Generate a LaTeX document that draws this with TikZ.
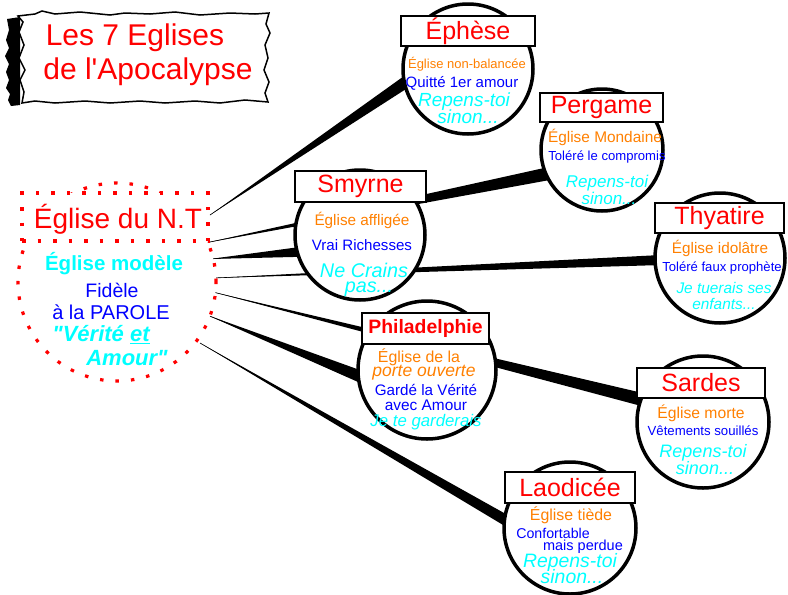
\documentclass[tikz,border=0pt]{standalone}
\usepackage{fontspec}
\setmainfont{Liberation Sans}
\usetikzlibrary{calc}
\pgfdeclarelayer{bg}
\pgfsetlayers{bg,main}
\definecolor{orng}{RGB}{255,128,0}
\definecolor{cyn}{RGB}{0,255,255}
\definecolor{blu}{RGB}{0,0,255}
\definecolor{rd}{RGB}{255,0,0}
\newcommand{\fs}[1]{\fontsize{#1}{#1}\selectfont}
\newcommand{\churchlink}[4]{%
  \coordinate (lkE) at ($(#2.#3)!-6pt!(#1)$);
  \fill[black] (#1) -- ($(lkE)!#4!90:(#1)$) -- ($(lkE)!#4!-90:(#1)$) -- cycle;
  \draw[black,line width=0.6pt] (#1) -- (lkE);}
\begin{document}
\begin{tikzpicture}[x=1pt,y=-1pt,
  church/.style={circle,draw=black,line width=3.5pt,fill=white,inner sep=0pt},
  namebox/.style={draw=black,line width=2.5pt,fill=white,inner sep=0pt,text=rd,font=\fs{25}},
  dotred/.style={draw=rd,line width=3.2pt,dash pattern=on 3.5pt off 12pt,fill=white},
  txt/.style={inner sep=0pt},
  o/.style={txt,text=orng},
  b/.style={txt,text=blu},
  c/.style={txt,text=cyn}]
\useasboundingbox (0,0) rectangle (788,595);

% title (torn paper)
\fill[black] (7,19) -- (20,17) -- (20,105) -- (11,106) -- (8,100) -- (10,94) -- (6,88) -- (9,80) -- (6,72) -- (9,64) -- (5,56) -- (9,48) -- (6,40) -- (9,30) -- cycle;
\filldraw[fill=white,draw=black,line width=1.5pt] (18,16) -- (35,14) -- (42,11) -- (55,14) -- (80,12) -- (110,15) -- (125,13) -- (150,14) -- (175,12) -- (200,15) -- (230,13) -- (255,14) -- (269,13) -- (266,24) -- (270,33) -- (265,45) -- (268,58) -- (264,70) -- (269,82) -- (265,93) -- (268,102) -- (245,100) -- (220,103) -- (195,101) -- (165,103) -- (140,101) -- (110,103) -- (85,101) -- (55,103) -- (35,101) -- (22,103) -- (24,92) -- (20,80) -- (25,70) -- (19,58) -- (24,45) -- (19,32) -- (23,22) -- cycle;
\node[txt,text=rd,font=\fs{30}] (t1) at (135,38) {Les 7 Eglises};
\node[txt,text=rd,font=\fs{30}] (t2) at (148,72) {de l\textquotesingle Apocalypse};

% left node
\node[dotred,circle,minimum size=198pt,inner sep=0pt] (nt) at (117,282) {};
\node[dotred,rectangle,minimum width=186pt,minimum height=48pt,inner sep=0pt] (ntbox) at (115,217) {};
\node[txt,text=rd,font=\fs{28}] (ntname) at (118,219) {Église du N.T};
\node[c,font=\bfseries\fs{20.5}] (nt1) at (114,264) {Église modèle};
\node[b,font=\fs{19.5}] (nt2) at (112,290) {Fidèle};
\node[b,font=\fs{20}] (nt3) at (111,312) {à la PAROLE};
\node[c,font=\bfseries\itshape\fs{22}] (nt4) at (101,335) {\textquotedbl Vérité \underline{et}};
\node[c,font=\bfseries\itshape\fs{22}] (nt5) at (127,358) {Amour\textquotedbl};

\coordinate (s1) at (210,215);
\coordinate (s2) at (205,243);
\coordinate (s3) at (210,259);
\coordinate (s4) at (213,278);
\coordinate (s5) at (213,292);
\coordinate (s6) at (207,315);
\coordinate (s7) at (200,343);

% churches
\node[church,minimum size=130pt] (eph) at (468,69) {};
\node[church,minimum size=122pt] (per) at (602,150) {};
\node[church,minimum size=130pt] (smy) at (360,235) {};
\node[church,minimum size=130pt] (thy) at (720,258) {};
\node[church,minimum size=138pt] (phi) at (427,370) {};
\node[church,minimum size=132pt] (sar) at (703,422) {};
\node[church,minimum size=132pt] (lao) at (570,528) {};

\begin{pgfonlayer}{bg}
\churchlink{s1}{eph}{193.6}{6pt}
\churchlink{s2}{per}{203}{6.5pt}
\churchlink{s3}{smy}{195}{5pt}
\churchlink{s4}{thy}{182}{5pt}
\churchlink{s5}{sar}{160}{6.5pt}
\churchlink{s6}{phi}{184}{6pt}
\churchlink{s7}{lao}{172}{5.5pt}
\end{pgfonlayer}

% name boxes
\node[namebox,minimum width=134pt,minimum height=30pt] (ephB) at (468,31) {Éphèse};
\node[namebox,minimum width=123pt,minimum height=29pt] (perB) at (601.5,107.5) {Pergame};
\node[namebox,minimum width=131pt,minimum height=31pt] (smyB) at (360.5,186.5) {Smyrne};
\node[namebox,minimum width=129pt,minimum height=30pt] (thyB) at (719.5,218) {Thyatire};
\node[namebox,minimum width=127pt,minimum height=31pt,font=\bfseries\fs{19.4}] (phiB) at (425.5,328.5) {Philadelphie};
\node[namebox,minimum width=128pt,minimum height=30pt] (sarB) at (701,383) {Sardes};
\node[namebox,minimum width=130pt,minimum height=31pt] (laoB) at (570,487.5) {Laodicée};

% Ephese
\node[o,font=\fs{13}] (e1) at (467,64) {Église non-balancée};
\node[b,font=\fs{15}] (e2) at (462,83) {Quitté 1er amour};
\node[c,font=\itshape\fs{19}] (e3) at (464,102) {Repens-toi};
\node[c,font=\itshape\fs{19}] (e4) at (468,117) {sinon...};

% Pergame
\node[o,font=\fs{15.4}] (p1) at (605,137) {Église Mondaine};
\node[b,font=\fs{13.1}] (p2) at (607,157) {Toléré le compromis};
\node[c,font=\itshape\fs{17}] (p3) at (607,183) {Repens-toi};
\node[c,font=\itshape\fs{17}] (p4) at (609,198) {sinon...};

% Smyrne
\node[o,font=\fs{15.3}] (m1) at (362,220) {Église affligée};
\node[b,font=\fs{15.1}] (m2) at (362,245) {Vrai Richesses};
\node[c,font=\itshape\fs{19.8}] (m3) at (364,270) {Ne Crains};
\node[c,font=\itshape\fs{19.8}] (m4) at (369,289) {pas...};

% Thyatire
\node[o,font=\fs{15.3}] (y1) at (720,248) {Église idolâtre};
\node[b,font=\fs{13.1}] (y2) at (722,268) {Toléré faux prophète};
\node[c,font=\itshape\fs{15.4}] (y3) at (724,288) {Je tuerais ses};
\node[c,font=\itshape\fs{15.4}] (y4) at (724,304) {enfants...};

% Philadelphie
\node[o,font=\fs{15.9}] (h1) at (419,357) {Église de la};
\node[o,font=\itshape\fs{17.5}] (h2) at (424,373) {porte ouverte};
\node[b,font=\fs{15.2}] (h3) at (426,390) {Gardé la Vérité};
\node[b,font=\fs{15.4}] (h4) at (426,405) {avec Amour};
\node[c,font=\itshape\fs{16.8}] (h5) at (426,422) {Je te garderais};

% Sardes
\node[o,font=\fs{15.7}] (r1) at (701,413) {Église morte};
\node[b,font=\fs{13.2}] (r2) at (703,431) {Vêtements souillés};
\node[c,font=\itshape\fs{18}] (r3) at (703,453) {Repens-toi};
\node[c,font=\itshape\fs{18}] (r4) at (705,468) {sinon...};

% Laodicee
\node[o,font=\fs{15.9}] (l1) at (571,515) {Église tiède};
\node[b,font=\fs{14.2}] (l2) at (553,533) {Confortable};
\node[b,font=\fs{14.5}] (l3) at (583,547) {mais perdue};
\node[c,font=\itshape\fs{19.4}] (l4) at (570,562) {Repens-toi};
\node[c,font=\itshape\fs{19.4}] (l5) at (572,577) {sinon...};
\end{tikzpicture}
\end{document}
